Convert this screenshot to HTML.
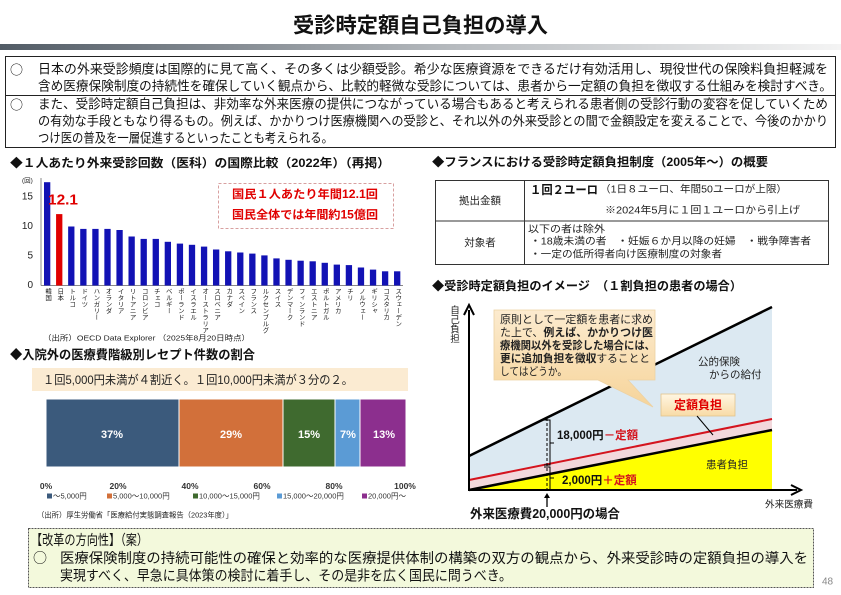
<!DOCTYPE html>
<html><head><meta charset="utf-8">
<style>
html,body{margin:0;padding:0;background:#fff;}
body{width:841px;height:595px;overflow:hidden;position:relative;font-family:"Liberation Sans","Noto Sans CJK JP",sans-serif;}
svg{position:absolute;left:0;top:0;}
.v{position:absolute;writing-mode:vertical-rl;font-size:6.5px;line-height:7px;width:7px;color:#222;white-space:nowrap;font-family:"Liberation Sans","Noto Sans CJK JP",sans-serif;}
</style></head><body>
<svg width="841" height="595" viewBox="0 0 841 595" xmlns="http://www.w3.org/2000/svg" font-family="'Liberation Sans','Noto Sans CJK JP',sans-serif">
<defs>
<linearGradient id="gb" x1="0" x2="1" y1="0" y2="0"><stop offset="0" stop-color="#525c66"/><stop offset="0.55" stop-color="#b8bcc0"/><stop offset="1" stop-color="#f4f4f4"/></linearGradient>
<linearGradient id="cb" x1="0" x2="0" y1="0" y2="1"><stop offset="0" stop-color="#fcebcf"/><stop offset="1" stop-color="#f6d49a"/></linearGradient>
<linearGradient id="tb" x1="0" x2="0" y1="0" y2="1"><stop offset="0" stop-color="#fff6e2"/><stop offset="1" stop-color="#f8dba6"/></linearGradient>
</defs>

<!-- Title -->
<text x="420.5" y="26" text-anchor="middle" dominant-baseline="central" font-size="21" font-weight="bold" fill="#111" textLength="255" lengthAdjust="spacingAndGlyphs">受診時定額自己負担の導入</text>
<rect x="0" y="44" width="841" height="6" fill="url(#gb)"/>

<!-- Top text box -->
<rect x="5.5" y="56.5" width="830" height="91" fill="#fff" stroke="#222" stroke-width="1"/>
<line x1="5" y1="95.5" x2="836" y2="95.5" stroke="#222" stroke-width="1"/>
<g font-size="13" fill="#111" dominant-baseline="central">
<text x="10" y="69" font-family="'Noto Sans CJK JP',sans-serif">○</text>
<text x="38" y="69" textLength="790" lengthAdjust="spacingAndGlyphs">日本の外来受診頻度は国際的に見て高く、その多くは少額受診。希少な医療資源をできるだけ有効活用し、現役世代の保険料負担軽減を</text>
<text x="38" y="86" textLength="794" lengthAdjust="spacingAndGlyphs">含め医療保険制度の持続性を確保していく観点から、比較的軽微な受診については、患者から一定額の負担を徴収する仕組みを検討すべき。</text>
<text x="10" y="104" font-family="'Noto Sans CJK JP',sans-serif">○</text>
<text x="38" y="104" textLength="790" lengthAdjust="spacingAndGlyphs">また、受診時定額自己負担は、非効率な外来医療の提供につながっている場合もあると考えられる患者側の受診行動の変容を促していくため</text>
<text x="38" y="121" textLength="790" lengthAdjust="spacingAndGlyphs">の有効な手段ともなり得るもの。例えば、かかりつけ医療機関への受診と、それ以外の外来受診との間で金額設定を変えることで、今後のかかり</text>
<text x="38" y="138" textLength="295" lengthAdjust="spacingAndGlyphs">つけ医の普及を一層促進するといったことも考えられる。</text>
</g>

<!-- Left heading -->
<text x="10" y="163" dominant-baseline="central" font-size="12" font-weight="bold" fill="#111" textLength="380" lengthAdjust="spacingAndGlyphs">◆１人あたり外来受診回数（医科）の国際比較（2022年）（再掲）</text>

<!-- Bar chart -->
<line x1="41" y1="178" x2="41" y2="285.5" stroke="#888" stroke-width="1"/>
<line x1="41" y1="285.5" x2="403" y2="285.5" stroke="#888" stroke-width="1"/>
<g font-size="10" fill="#222" text-anchor="end" dominant-baseline="central">
<text x="33" y="197">15</text><text x="33" y="226.5">10</text><text x="33" y="256">5</text><text x="33" y="285.5">0</text>
</g>
<text x="22" y="181" font-size="6.5" fill="#222" dominant-baseline="central">(回)</text>
<g fill="#1212b4">
<rect x="44.00" y="182.2" width="6.3" height="103.3"/>
<rect x="56.07" y="214.1" width="6.3" height="71.4" fill="#e00000"/>
<rect x="68.14" y="226.5" width="6.3" height="59.0"/>
<rect x="80.21" y="228.9" width="6.3" height="56.6"/>
<rect x="92.28" y="228.9" width="6.3" height="56.6"/>
<rect x="104.35" y="228.9" width="6.3" height="56.6"/>
<rect x="116.42" y="230.0" width="6.3" height="55.5"/>
<rect x="128.49" y="236.5" width="6.3" height="49.0"/>
<rect x="140.56" y="238.9" width="6.3" height="46.6"/>
<rect x="152.63" y="238.9" width="6.3" height="46.6"/>
<rect x="164.70" y="241.8" width="6.3" height="43.7"/>
<rect x="176.77" y="243.6" width="6.3" height="41.9"/>
<rect x="188.84" y="244.8" width="6.3" height="40.7"/>
<rect x="200.91" y="246.6" width="6.3" height="38.9"/>
<rect x="212.98" y="249.5" width="6.3" height="36.0"/>
<rect x="225.05" y="251.3" width="6.3" height="34.2"/>
<rect x="237.12" y="252.5" width="6.3" height="33.0"/>
<rect x="249.19" y="253.6" width="6.3" height="31.9"/>
<rect x="261.26" y="255.4" width="6.3" height="30.1"/>
<rect x="273.33" y="258.4" width="6.3" height="27.1"/>
<rect x="285.40" y="259.8" width="6.3" height="25.7"/>
<rect x="297.47" y="260.7" width="6.3" height="24.8"/>
<rect x="309.54" y="261.3" width="6.3" height="24.2"/>
<rect x="321.61" y="262.8" width="6.3" height="22.7"/>
<rect x="333.68" y="264.6" width="6.3" height="20.9"/>
<rect x="345.75" y="265.1" width="6.3" height="20.4"/>
<rect x="357.82" y="267.5" width="6.3" height="18.0"/>
<rect x="369.89" y="269.6" width="6.3" height="15.9"/>
<rect x="381.96" y="271.3" width="6.3" height="14.2"/>
<rect x="394.03" y="271.3" width="6.3" height="14.2"/>
</g>
<text x="48" y="200" dominant-baseline="central" font-size="15" font-weight="bold" fill="#e00000" textLength="30" lengthAdjust="spacingAndGlyphs">12.1</text>
<rect x="218.5" y="183.5" width="175" height="45" fill="none" stroke="#d8a0a0" stroke-width="1" stroke-dasharray="3,2"/>
<g font-size="11.5" font-weight="bold" fill="#e00000" text-anchor="middle" dominant-baseline="central">
<text x="305" y="195" textLength="146" lengthAdjust="spacingAndGlyphs">国民１人あたり年間12.1回</text>
<text x="305" y="215.5" textLength="146" lengthAdjust="spacingAndGlyphs">国民全体では年間約15億回</text>
</g>
<text x="43" y="338" dominant-baseline="central" font-size="7.5" fill="#222" textLength="207" lengthAdjust="spacingAndGlyphs">（出所）OECD Data Explorer （2025年8月20日時点）</text>

<!-- Lower left section -->
<text x="10" y="355" dominant-baseline="central" font-size="12.5" font-weight="bold" fill="#111" textLength="245" lengthAdjust="spacingAndGlyphs">◆入院外の医療費階級別レセプト件数の割合</text>
<rect x="32" y="368" width="376" height="23" fill="#fbebd2"/>
<text x="43" y="380" dominant-baseline="central" font-size="12" fill="#222" textLength="310" lengthAdjust="spacingAndGlyphs">１回5,000円未満が４割近く。１回10,000円未満が３分の２。</text>
<g stroke="#fff" stroke-width="1">
<rect x="46" y="399" width="133" height="68" fill="#3b5a7c"/>
<rect x="179" y="399" width="104" height="68" fill="#d2703a"/>
<rect x="283" y="399" width="52" height="68" fill="#3f6a2f"/>
<rect x="335" y="399" width="25" height="68" fill="#5b9bd5"/>
<rect x="360" y="399" width="46" height="68" fill="#8c2f8e"/>
</g>
<g font-size="11" font-weight="bold" fill="#fff" text-anchor="middle" dominant-baseline="central">
<text x="112" y="435">37%</text><text x="231" y="435">29%</text><text x="309" y="435">15%</text><text x="348" y="435">7%</text><text x="384" y="435">13%</text>
</g>
<g font-size="8.5" font-weight="bold" fill="#333" text-anchor="middle" dominant-baseline="central">
<text x="46" y="486">0%</text><text x="118" y="486">20%</text><text x="190" y="486">40%</text><text x="262" y="486">60%</text><text x="334" y="486">80%</text><text x="405" y="486">100%</text>
</g>
<g font-size="7.5" fill="#333" dominant-baseline="central">
<rect x="47" y="493.5" width="5" height="5" fill="#3b5a7c"/><text x="53" y="496">～5,000円</text>
<rect x="107" y="493.5" width="5" height="5" fill="#d2703a"/><text x="113" y="496">5,000～10,000円</text>
<rect x="193" y="493.5" width="5" height="5" fill="#3f6a2f"/><text x="199" y="496">10,000～15,000円</text>
<rect x="277" y="493.5" width="5" height="5" fill="#5b9bd5"/><text x="283" y="496">15,000～20,000円</text>
<rect x="362" y="493.5" width="5" height="5" fill="#8c2f8e"/><text x="368" y="496">20,000円～</text>
</g>
<text x="37" y="515" dominant-baseline="central" font-size="7.5" fill="#222" textLength="196" lengthAdjust="spacingAndGlyphs">（出所）厚生労働省「医療給付実態調査報告（2023年度）」</text>

<!-- Right: France table -->
<text x="432" y="162" dominant-baseline="central" font-size="12" font-weight="bold" fill="#111" textLength="336" lengthAdjust="spacingAndGlyphs">◆フランスにおける受診時定額負担制度（2005年～）の概要</text>
<rect x="435.5" y="180.5" width="393" height="84" fill="#fff" stroke="#333" stroke-width="1"/>
<line x1="435" y1="221" x2="829" y2="221" stroke="#333" stroke-width="1"/>
<line x1="524.5" y1="180" x2="524.5" y2="265" stroke="#333" stroke-width="1"/>
<g font-size="10.5" fill="#222" dominant-baseline="central">
<text x="480" y="201" text-anchor="middle">拠出金額</text>
<text x="480" y="243" text-anchor="middle">対象者</text>
<text x="530" y="190" font-size="12" font-weight="bold" fill="#111" textLength="68" lengthAdjust="spacingAndGlyphs">１回２ユーロ</text>
<text x="600" y="190" font-size="10" textLength="187" lengthAdjust="spacingAndGlyphs">（1日８ユーロ、年間50ユーロが上限）</text>
<text x="605" y="211" font-size="10" textLength="195" lengthAdjust="spacingAndGlyphs">※2024年5月に１回１ユーロから引上げ</text>
<text x="528" y="230" font-size="10" textLength="77" lengthAdjust="spacingAndGlyphs">以下の者は除外</text>
<text x="530" y="242" font-size="10" textLength="281" lengthAdjust="spacingAndGlyphs">・18歳未満の者　・妊娠６か月以降の妊婦　・戦争障害者</text>
<text x="530" y="255" font-size="10" textLength="192" lengthAdjust="spacingAndGlyphs">・一定の低所得者向け医療制度の対象者</text>
</g>
<text x="432" y="286" dominant-baseline="central" font-size="12" font-weight="bold" fill="#111" textLength="310" lengthAdjust="spacingAndGlyphs">◆受診時定額負担のイメージ　（１割負担の患者の場合）</text>

<!-- Diagram -->
<polygon points="469,456 772,307 772,419 469,480" fill="#dce9f2"/>
<polygon points="469,480 772,419 772,430 469,490" fill="#f2d8dc"/>
<polygon points="469,490 772,430 772,490" fill="#ffff00"/>
<line x1="469" y1="456" x2="772" y2="307" stroke="#000" stroke-width="2.5"/>
<line x1="469" y1="480" x2="772" y2="419" stroke="#d4141e" stroke-width="2"/>
<line x1="469" y1="490" x2="772" y2="430" stroke="#000" stroke-width="2.5"/>
<line x1="469" y1="491" x2="469" y2="310" stroke="#000" stroke-width="2"/>
<polyline points="464,315 469,305 474,315" fill="none" stroke="#000" stroke-width="2"/>
<line x1="468" y1="490" x2="797" y2="490" stroke="#000" stroke-width="2"/>
<polyline points="791,485 801,490 791,495" fill="none" stroke="#000" stroke-width="2"/>
<line x1="547" y1="418" x2="547" y2="490" stroke="#000" stroke-width="1" stroke-dasharray="3,2"/>
<path d="M544,420 H550 V465 H544 M550,443 H554" fill="none" stroke="#000" stroke-width="1"/>
<path d="M544,467 H550 V489 M550,478 H554" fill="none" stroke="#000" stroke-width="1"/>
<line x1="547" y1="507" x2="547" y2="496" stroke="#000" stroke-width="1.3"/>
<polygon points="544,498 547,493 550,498" fill="#000"/>
<g font-size="11.5" font-weight="bold" dominant-baseline="central">
<text x="557" y="436" fill="#111">18,000円<tspan fill="#d4141e">－定額</tspan></text>
<text x="562" y="481" fill="#111">2,000円<tspan fill="#d4141e">＋定額</tspan></text>
</g>
<!-- callout -->
<path d="M494,310 H655 V380 H628 L653,407 L598,380 H494 Z" fill="url(#cb)" stroke="#ecd2a4" stroke-width="0.8"/>
<g font-size="11" fill="#222" dominant-baseline="central">
<text x="500" y="320" textLength="153" lengthAdjust="spacingAndGlyphs">原則として一定額を患者に求め</text>
<text x="500" y="333" textLength="153" lengthAdjust="spacingAndGlyphs">た上で、<tspan font-weight="bold">例えば、かかりつけ医</tspan></text>
<text x="500" y="346" font-weight="bold" textLength="155" lengthAdjust="spacingAndGlyphs">療機関以外を受診した場合には、</text>
<text x="500" y="359" textLength="150" lengthAdjust="spacingAndGlyphs"><tspan font-weight="bold">更に追加負担を徴収</tspan>することと</text>
<text x="500" y="372" textLength="67" lengthAdjust="spacingAndGlyphs">してはどうか。</text>
</g>
<g font-size="10.5" fill="#222" dominant-baseline="central">
<text x="698" y="362">公的保険</text>
<text x="709" y="375">からの給付</text>
<text x="706" y="465">患者負担</text>
</g>
<rect x="661" y="394" width="74" height="22" fill="url(#tb)" stroke="#e2c48c" stroke-width="0.8"/>
<text x="698" y="405" text-anchor="middle" dominant-baseline="central" font-size="12" font-weight="bold" fill="#e00000">定額負担</text>
<line x1="697" y1="416" x2="713" y2="435" stroke="#000" stroke-width="1"/>
<text x="765" y="505" dominant-baseline="central" font-size="9.5" fill="#222" textLength="48" lengthAdjust="spacingAndGlyphs">外来医療費</text>
<text x="470" y="514" dominant-baseline="central" font-size="12.5" font-weight="bold" fill="#111" textLength="150" lengthAdjust="spacingAndGlyphs">外来医療費20,000円の場合</text>

<!-- Bottom box -->
<rect x="28.5" y="528.5" width="785" height="59" fill="#f3f9dc" stroke="#555" stroke-width="1" stroke-dasharray="2,1"/>
<g font-size="14" fill="#111" dominant-baseline="central">
<text x="31" y="540" textLength="117" lengthAdjust="spacingAndGlyphs">【改革の方向性】（案）</text>
<text x="33" y="558" font-family="'Noto Sans CJK JP',sans-serif">○</text>
<text x="60" y="558" textLength="748" lengthAdjust="spacingAndGlyphs">医療保険制度の持続可能性の確保と効率的な医療提供体制の構築の双方の観点から、外来受診時の定額負担の導入を</text>
<text x="60" y="575.5" textLength="452" lengthAdjust="spacingAndGlyphs">実現すべく、早急に具体策の検討に着手し、その是非を広く国民に問うべき。</text>
</g>
<text x="822" y="582" dominant-baseline="central" font-size="10" fill="#888">48</text>
</svg>

<!-- vertical labels -->
<div class="v" style="left:448px;top:305px;font-size:9.5px;line-height:10px;width:10px;">自己負担</div>
<div class="v" style="left:43.6px;top:288px;">韓国</div>
<div class="v" style="left:55.7px;top:288px;">日本</div>
<div class="v" style="left:67.8px;top:288px;">トルコ</div>
<div class="v" style="left:79.9px;top:288px;">ドイツ</div>
<div class="v" style="left:91.9px;top:288px;">ハンガリー</div>
<div class="v" style="left:104.0px;top:288px;">オランダ</div>
<div class="v" style="left:116.1px;top:288px;">イタリア</div>
<div class="v" style="left:128.1px;top:288px;">リトアニア</div>
<div class="v" style="left:140.2px;top:288px;">コロンビア</div>
<div class="v" style="left:152.3px;top:288px;">チェコ</div>
<div class="v" style="left:164.3px;top:288px;">ベルギー</div>
<div class="v" style="left:176.4px;top:288px;">ポーランド</div>
<div class="v" style="left:188.5px;top:288px;">イスラエル</div>
<div class="v" style="left:200.6px;top:288px;">オーストラリア</div>
<div class="v" style="left:212.6px;top:288px;">スロベニア</div>
<div class="v" style="left:224.7px;top:288px;">カナダ</div>
<div class="v" style="left:236.8px;top:288px;">スペイン</div>
<div class="v" style="left:248.8px;top:288px;">フランス</div>
<div class="v" style="left:260.9px;top:288px;">ルクセンブルグ</div>
<div class="v" style="left:273.0px;top:288px;">スイス</div>
<div class="v" style="left:285.1px;top:288px;">デンマーク</div>
<div class="v" style="left:297.1px;top:288px;">フィンランド</div>
<div class="v" style="left:309.2px;top:288px;">エストニア</div>
<div class="v" style="left:321.3px;top:288px;">ポルトガル</div>
<div class="v" style="left:333.3px;top:288px;">アメリカ</div>
<div class="v" style="left:345.4px;top:288px;">チリ</div>
<div class="v" style="left:357.5px;top:288px;">ノルウェー</div>
<div class="v" style="left:369.5px;top:288px;">ギリシャ</div>
<div class="v" style="left:381.6px;top:288px;">コスタリカ</div>
<div class="v" style="left:393.7px;top:288px;">スウェーデン</div>
</body></html>
